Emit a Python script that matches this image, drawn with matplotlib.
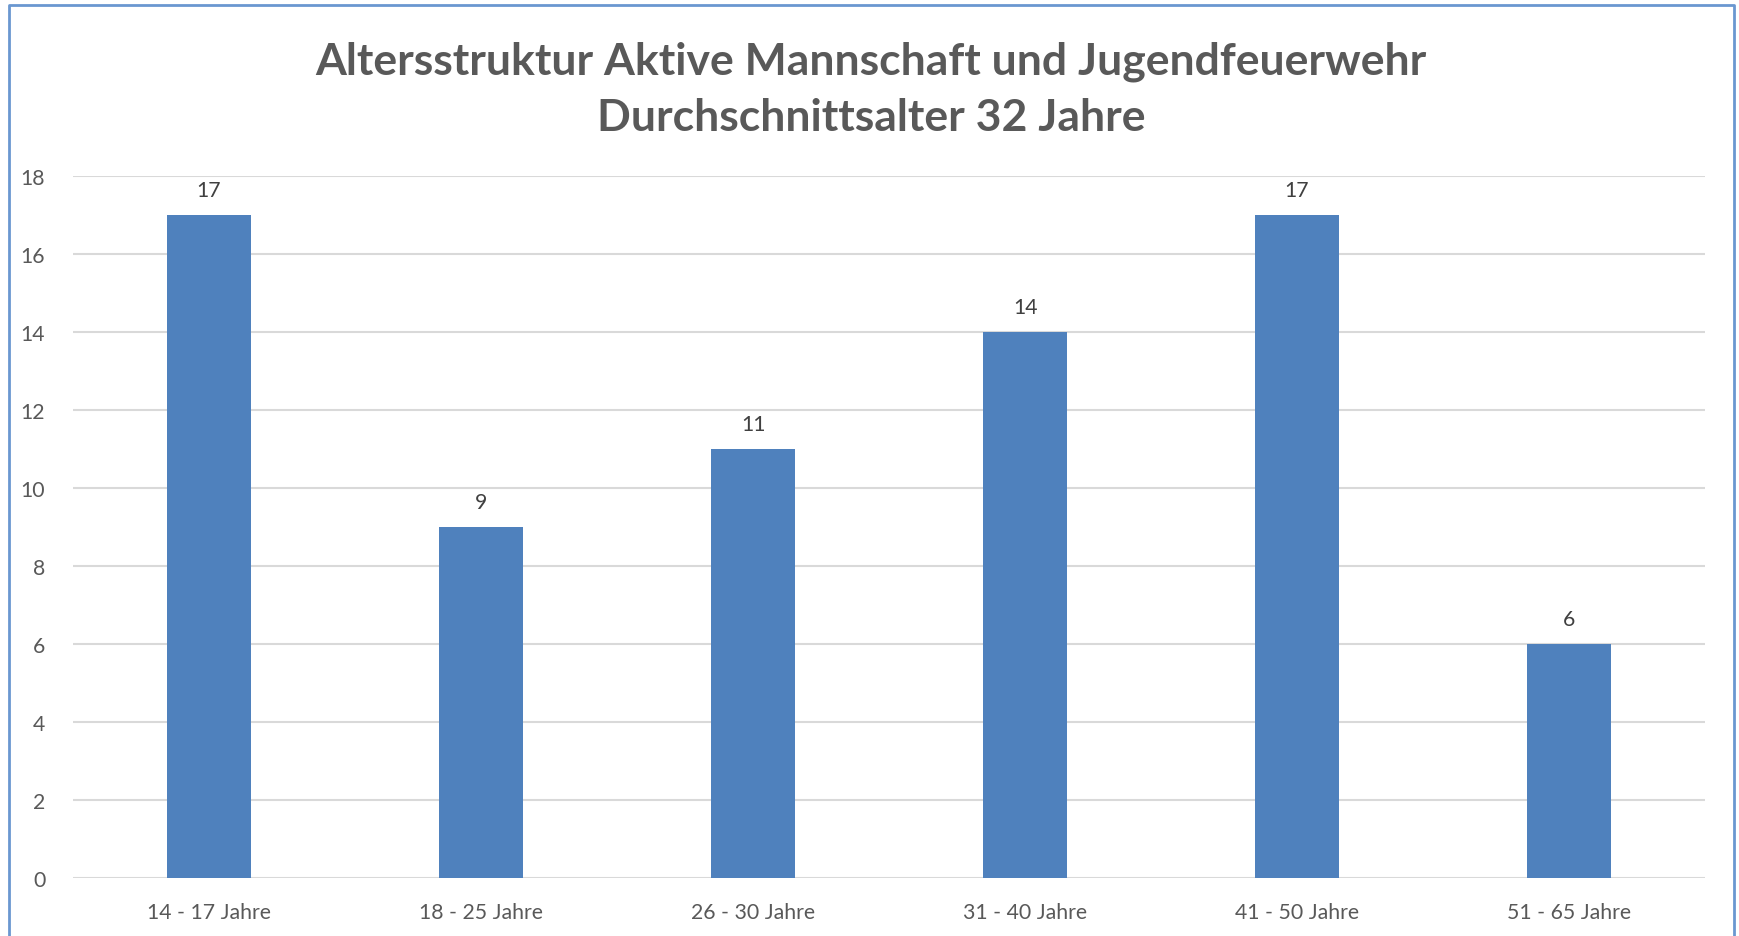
import matplotlib.pyplot as plt
from matplotlib.lines import Line2D

# Chart data
categories = ['14 - 17 Jahre', '18 - 25 Jahre', '26 - 30 Jahre',
              '31 - 40 Jahre', '41 - 50 Jahre', '51 - 65 Jahre']
counts = [17, 9, 11, 14, 17, 6]
y_ticks = [0, 2, 4, 6, 8, 10, 12, 14, 16, 18]
title_lines = ['Altersstruktur Aktive Mannschaft und Jugendfeuerwehr',
               'Durchschnittsalter 32 Jahre']

plt.rcParams['font.family'] = ['Lato', 'DejaVu Sans']

text_grey = '#595959'
bar_blue = '#4F81BD'

fig = plt.figure(figsize=(17.39, 9.37), dpi=100)
ax = fig.add_axes([0.042, 0.0619, 0.9385, 0.7491])

x = list(range(len(categories)))
ax.bar(x, counts, width=0.31, color=bar_blue, zorder=3)

# Value labels above bars
for xi, v in zip(x, counts):
    ax.annotate(str(v), (xi, v), xytext=(0, 18), textcoords='offset points',
                ha='center', va='center', fontsize=15.3, color='#404040')

ax.set_xlim(-0.5, len(categories) - 0.5)
ax.set_ylim(0, 18)
ax.set_yticks(y_ticks)
ax.set_xticks(x)
ax.set_xticklabels(categories)
ax.tick_params(axis='both', length=0, labelsize=15.3, labelcolor=text_grey)
ax.tick_params(axis='y', pad=20)
ax.tick_params(axis='x', pad=17)
ax.grid(axis='y', color='#D9D9D9', linewidth=1.5, zorder=0)
for s in ax.spines.values():
    s.set_visible(False)

# Title
fig.text(0.501, 0.934, title_lines[0], ha='center', va='center',
         fontsize=32, fontweight='bold', color=text_grey)
fig.text(0.501, 0.874, title_lines[1], ha='center', va='center',
         fontsize=32, fontweight='bold', color=text_grey)

# Chart border (bottom edge is cut off in the reference)
bx0, bx1 = 9 / 1739, 1734 / 1739
by_top = 1 - 6 / 937
fig.add_artist(Line2D([bx0, bx0, bx1, bx1], [0, by_top, by_top, 0],
                      transform=fig.transFigure, color='#6A97D0', linewidth=2))

fig.savefig('out.png', dpi=100)
